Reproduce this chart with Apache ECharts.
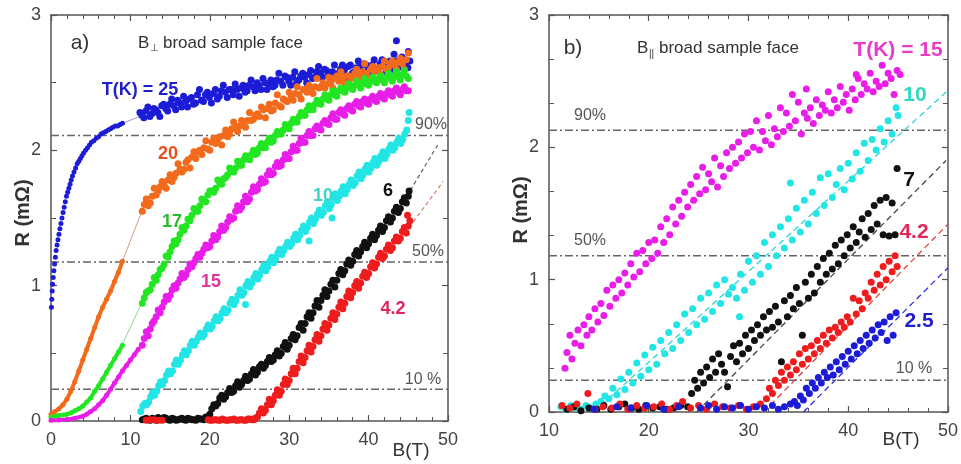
<!DOCTYPE html>
<html><head><meta charset="utf-8">
<script src="https://cdn.jsdelivr.net/npm/echarts@6.0.0/dist/echarts.min.js"></script>
<style>html,body{margin:0;padding:0;background:#fff}#c{width:961px;height:464px}</style>
</head><body><div id="c"></div><script>
// ---------- Panel a) B perpendicular ----------
const a25Lo = [[0.05,0.84],[0.1,0.9],[0.15,0.96],[0.2,1.01],[0.28,1.06],[0.36,1.11],[0.45,1.16],[0.55,1.21],[0.65,1.26],[0.76,1.3],[0.88,1.34],[1.0,1.38],[1.12,1.42],[1.25,1.46],[1.38,1.5],[1.52,1.54],[1.66,1.58],[1.8,1.62],[1.95,1.66],[2.1,1.69],[2.25,1.72],[2.4,1.75],[2.55,1.78],[2.7,1.81],[2.9,1.84],[3.1,1.87],[3.3,1.9],[3.5,1.92],[3.7,1.94],[3.9,1.96],[4.1,1.98],[4.35,2.0],[4.6,2.02],[4.85,2.04],[5.1,2.06],[5.4,2.07],[5.7,2.09],[6.0,2.1],[6.3,2.12],[6.6,2.13],[6.9,2.14],[7.2,2.15],[7.5,2.16],[7.8,2.17],[8.1,2.18],[8.4,2.18],[8.7,2.19],[9.0,2.2]];
const a25Gap = [[9.0,2.2],[11.2,2.25]];
const a25 = [[11.2,2.28],[11.7,2.24],[12.2,2.32],[12.7,2.27],[13.2,2.30],[13.7,2.25],[14.2,2.34],[14.7,2.29],[15.2,2.38],[15.7,2.30],[16.2,2.35],[16.7,2.40],[17.2,2.32],[17.7,2.39],[18.2,2.35],[18.7,2.45],[19.2,2.36],[19.7,2.43],[20.2,2.35],[20.7,2.45],[21.2,2.40],[21.7,2.48],[22.2,2.39],[22.7,2.45],[23.2,2.49],[23.7,2.40],[24.2,2.48],[24.7,2.44],[25.2,2.52],[25.7,2.44],[26.2,2.48],[26.7,2.53],[27.2,2.45],[27.7,2.52],[28.2,2.48],[28.7,2.57],[29.2,2.48],[29.7,2.54],[30.2,2.48],[30.7,2.58],[31.2,2.52],[31.7,2.57],[32.2,2.50],[32.7,2.59],[33.2,2.54],[33.7,2.62],[34.2,2.54],[34.7,2.59],[35.2,2.53],[35.7,2.63],[36.2,2.57],[36.7,2.63],[37.2,2.54],[37.7,2.63],[38.2,2.58],[38.7,2.66],[39.2,2.58],[39.7,2.63],[40.2,2.57],[40.7,2.67],[41.2,2.60],[41.7,2.67],[42.2,2.58],[42.7,2.66],[43.2,2.71],[43.5,2.81],[43.7,2.61],[44.2,2.69],[44.7,2.63],[45.0,2.73],[45.2,2.66]];
const a25More = [[11.45,2.26],[11.95,2.29],[12.45,2.25],[12.95,2.31],[13.45,2.28],[13.95,2.33],[14.45,2.31],[14.95,2.34],[15.45,2.33],[15.95,2.37],[16.45,2.32],[16.95,2.36],[17.45,2.38],[17.95,2.34],[18.45,2.41],[18.95,2.37],[19.45,2.41],[19.95,2.39],[20.45,2.42],[20.95,2.38],[21.45,2.44],[21.95,2.43],[22.45,2.45],[22.95,2.41],[23.45,2.45],[23.95,2.46],[24.45,2.43],[24.95,2.48],[25.45,2.47],[25.95,2.50],[26.45,2.45],[26.95,2.50],[27.45,2.49],[27.95,2.47],[28.45,2.52],[28.95,2.51],[29.45,2.55],[29.95,2.51],[30.45,2.54],[30.95,2.50],[31.45,2.55],[31.95,2.54],[32.45,2.56],[32.95,2.53],[33.45,2.58],[33.95,2.57],[34.45,2.60],[34.95,2.56],[35.45,2.58],[35.95,2.55],[36.45,2.60],[36.95,2.59],[37.45,2.62],[37.95,2.57],[38.45,2.61],[38.95,2.62],[39.45,2.64],[39.95,2.60],[40.45,2.63],[40.95,2.59],[41.45,2.64],[41.95,2.62],[42.45,2.65],[42.95,2.60],[43.45,2.66],[43.95,2.65],[44.45,2.67],[44.95,2.61]];

const a20Lo = [[0,0.05],[0.5,0.07],[1,0.09],[1.5,0.12],[2,0.16],[2.5,0.22],[3,0.29],[3.5,0.37],[4,0.45],[4.5,0.53],[5,0.61],[5.5,0.69],[6,0.77],[6.5,0.84],[7,0.9],[7.5,0.96],[8,1.03],[8.5,1.1],[9,1.18]];
const a20Gap = [[9,1.18],[11.5,1.56]];
const a20 = [[11.5,1.55],[12,1.64],[12.5,1.61],[13,1.72],[13.5,1.70],[14,1.77],[14.5,1.72],[15,1.82],[15.5,1.80],[16,1.90],[16.5,1.84],[17,1.91],[17.5,1.87],[18,1.99],[18.5,1.99],[19,1.97],[19.5,2.07],[20,2.00],[20.5,2.09],[21,2.08],[21.5,2.04],[22,2.15],[22.5,2.12],[23,2.21],[23.5,2.14],[24,2.22],[24.5,2.17],[25,2.28],[25.5,2.23],[26,2.27],[26.5,2.32],[27,2.24],[27.5,2.34],[28,2.30],[28.5,2.41],[29,2.32],[29.5,2.37],[30,2.43],[30.5,2.37],[31,2.47],[31.5,2.38],[32,2.45],[32.5,2.48],[33,2.42],[33.5,2.53],[34,2.47],[34.5,2.46],[35,2.54],[35.5,2.46],[36,2.55],[36.5,2.58],[37,2.50],[37.5,2.55],[38,2.54],[38.5,2.60],[39,2.54],[39.5,2.64],[40,2.53],[40.5,2.62],[41,2.59],[41.5,2.56],[42,2.66],[42.5,2.61],[43,2.66],[43.5,2.60],[44,2.68],[44.5,2.60],[45,2.72]];
const a20More = [[11.75,1.60],[12.25,1.59],[12.75,1.66],[13.25,1.67],[13.75,1.73],[14.25,1.74],[14.75,1.78],[15.25,1.77],[15.75,1.83],[16.25,1.86],[16.75,1.86],[17.25,1.93],[17.75,1.95],[18.25,1.94],[18.75,2.00],[19.25,2.02],[19.75,2.01],[20.25,2.06],[20.75,2.05],[21.25,2.10],[21.75,2.11],[22.25,2.10],[22.75,2.16],[23.25,2.17],[23.75,2.18],[24.25,2.21],[24.75,2.22],[25.25,2.22],[25.75,2.26],[26.25,2.25],[26.75,2.30],[27.25,2.31],[27.75,2.29],[28.25,2.35],[28.75,2.33],[29.25,2.38],[29.75,2.36],[30.25,2.40],[30.75,2.42],[31.25,2.41],[31.75,2.45],[32.25,2.43],[32.75,2.46],[33.25,2.47],[33.75,2.46],[34.25,2.50],[34.75,2.49],[35.25,2.50],[35.75,2.53],[36.25,2.51],[36.75,2.54],[37.25,2.55],[37.75,2.53],[38.25,2.57],[38.75,2.56],[39.25,2.58],[39.75,2.57],[40.25,2.60],[40.75,2.58],[41.25,2.61],[41.75,2.62],[42.25,2.60],[42.75,2.64],[43.25,2.63],[43.75,2.65],[44.25,2.64],[44.75,2.67]];

const a17Lo = [[0,0.03],[0.5,0.035],[1,0.04],[1.5,0.045],[2,0.05],[2.5,0.06],[3,0.075],[3.5,0.09],[4,0.11],[4.5,0.14],[5,0.17],[5.5,0.22],[6,0.26],[6.5,0.31],[7,0.36],[7.5,0.41],[8,0.46],[8.5,0.51],[9,0.56]];
const a17Gap = [[9,0.57],[11.5,0.88]];
const a17 = [[11.5,0.87],[12,0.95],[12.5,0.97],[13,1.06],[13.5,1.08],[14,1.13],[14.5,1.22],[15,1.25],[15.5,1.33],[16,1.34],[16.5,1.43],[17,1.44],[17.5,1.48],[18,1.57],[18.5,1.55],[19,1.64],[19.5,1.62],[20,1.70],[20.5,1.69],[21,1.78],[21.5,1.75],[22,1.80],[22.5,1.87],[23,1.84],[23.5,1.92],[24,1.89],[24.5,1.96],[25,1.93],[25.5,2.00],[26,1.98],[26.5,2.05],[27,2.02],[27.5,2.09],[28,2.07],[28.5,2.14],[29,2.12],[29.5,2.19],[30,2.16],[30.5,2.23],[31,2.21],[31.5,2.28],[32,2.26],[32.5,2.33],[33,2.30],[33.5,2.37],[34,2.34],[34.5,2.41],[35,2.37],[35.5,2.44],[36,2.40],[36.5,2.46],[37,2.43],[37.5,2.49],[38,2.45],[38.5,2.51],[39,2.46],[39.5,2.53],[40,2.48],[40.5,2.54],[41,2.50],[41.5,2.55],[42,2.50],[42.5,2.57],[43,2.51],[43.5,2.58],[44,2.52],[44.5,2.59],[45,2.53]];
const a17More = [[11.75,0.91],[12.25,0.96],[12.75,1.01],[13.25,1.04],[13.75,1.12],[14.25,1.16],[14.75,1.21],[15.25,1.29],[15.75,1.31],[16.25,1.38],[16.75,1.41],[17.25,1.49],[17.75,1.52],[18.25,1.55],[18.75,1.59],[19.25,1.63],[19.75,1.67],[20.25,1.70],[20.75,1.72],[21.25,1.76],[21.75,1.79],[22.25,1.82],[22.75,1.85],[23.25,1.87],[23.75,1.89],[24.25,1.93],[24.75,1.94],[25.25,1.97],[25.75,1.97],[26.25,2.02],[26.75,2.02],[27.25,2.06],[27.75,2.06],[28.25,2.11],[28.75,2.12],[29.25,2.15],[29.75,2.17],[30.25,2.20],[30.75,2.21],[31.25,2.25],[31.75,2.26],[32.25,2.30],[32.75,2.30],[33.25,2.34],[33.75,2.35],[34.25,2.38],[34.75,2.38],[35.25,2.41],[35.75,2.41],[36.25,2.44],[36.75,2.44],[37.25,2.46],[37.75,2.46],[38.25,2.48],[38.75,2.48],[39.25,2.50],[39.75,2.49],[40.25,2.51],[40.75,2.51],[41.25,2.53],[41.75,2.52],[42.25,2.54],[42.75,2.53],[43.25,2.55],[43.75,2.54],[44.25,2.56],[44.75,2.55]];

const a15Lo = [[0,0.005],[1,0.008],[2,0.012],[3,0.02],[4,0.035],[4.5,0.05],[5,0.07],[5.5,0.09],[6,0.12],[6.5,0.15],[7,0.19],[7.5,0.235],[8,0.28],[8.5,0.325],[9,0.37],[9.5,0.41],[10,0.45],[10.5,0.49],[11,0.53]];
const a15 = [[11.5,0.56],[12,0.66],[12.5,0.68],[13,0.74],[13.5,0.82],[14,0.84],[14.5,0.92],[15,0.93],[15.5,1.00],[16,1.02],[16.5,1.09],[17,1.08],[17.5,1.16],[18,1.17],[18.5,1.23],[19,1.24],[19.5,1.30],[20,1.29],[20.5,1.37],[21,1.36],[21.5,1.44],[22,1.43],[22.5,1.51],[23,1.50],[23.5,1.59],[24,1.58],[24.5,1.66],[25,1.64],[25.5,1.73],[26,1.71],[26.5,1.79],[27,1.77],[27.5,1.85],[28,1.83],[28.5,1.91],[29,1.89],[29.5,1.97],[30,1.94],[30.5,2.03],[31,2.00],[31.5,2.09],[32,2.06],[32.5,2.14],[33,2.11],[33.5,2.18],[34,2.15],[34.5,2.22],[35,2.19],[35.5,2.27],[36,2.23],[36.5,2.30],[37,2.26],[37.5,2.33],[38,2.29],[38.5,2.36],[39,2.32],[39.5,2.38],[40,2.34],[40.5,2.40],[41,2.36],[41.5,2.42],[42,2.38],[42.5,2.44],[43,2.40],[43.5,2.46],[44,2.41],[44.5,2.47],[45,2.44]];
const a15More = [[11.75,0.61],[12.25,0.63],[12.75,0.72],[13.25,0.77],[13.75,0.80],[14.25,0.88],[14.75,0.90],[15.25,0.97],[15.75,0.98],[16.25,1.05],[16.75,1.06],[17.25,1.12],[17.75,1.14],[18.25,1.20],[18.75,1.21],[19.25,1.27],[19.75,1.28],[20.25,1.33],[20.75,1.34],[21.25,1.40],[21.75,1.41],[22.25,1.47],[22.75,1.49],[23.25,1.55],[23.75,1.56],[24.25,1.62],[24.75,1.62],[25.25,1.69],[25.75,1.70],[26.25,1.75],[26.75,1.76],[27.25,1.82],[27.75,1.82],[28.25,1.88],[28.75,1.88],[29.25,1.93],[29.75,1.94],[30.25,1.99],[30.75,2.00],[31.25,2.05],[31.75,2.06],[32.25,2.11],[32.75,2.11],[33.25,2.16],[33.75,2.16],[34.25,2.20],[34.75,2.20],[35.25,2.24],[35.75,2.23],[36.25,2.28],[36.75,2.27],[37.25,2.31],[37.75,2.30],[38.25,2.34],[38.75,2.33],[39.25,2.36],[39.75,2.35],[40.25,2.38],[40.75,2.37],[41.25,2.40],[41.75,2.39],[42.25,2.42],[42.75,2.41],[43.25,2.44],[43.75,2.43],[44.25,2.45],[44.75,2.44]];

const a10 = [[11.3,0.07],[11.8,0.13],[12.3,0.14],[12.8,0.21],[13.3,0.22],[13.8,0.29],[14.3,0.30],[14.8,0.37],[15.3,0.37],[15.8,0.45],[16.3,0.45],[16.8,0.52],[17.3,0.52],[17.8,0.59],[18.3,0.59],[18.8,0.65],[19.3,0.64],[19.8,0.71],[20.3,0.70],[20.8,0.77],[21.3,0.76],[21.8,0.83],[22.3,0.82],[22.8,0.90],[23.3,0.89],[23.8,0.97],[24.3,0.95],[24.5,0.86],[24.8,1.03],[25.3,1.02],[25.8,1.09],[26.3,1.08],[26.8,1.15],[27.3,1.14],[27.8,1.21],[28.3,1.20],[28.8,1.27],[29.3,1.26],[29.8,1.32],[30.3,1.31],[30.8,1.38],[31.3,1.37],[31.8,1.44],[32.3,1.43],[32.5,1.33],[32.8,1.50],[33.3,1.49],[33.8,1.56],[34.3,1.54],[34.8,1.62],[35.3,1.60],[35.4,1.50],[35.8,1.68],[36.3,1.66],[36.8,1.73],[37.3,1.71],[37.8,1.78],[38.3,1.76],[38.8,1.84],[39.3,1.82],[39.8,1.89],[40.3,1.87],[40.8,1.94],[41.3,1.92],[41.8,1.99],[42.3,1.97],[42.8,2.04],[43.3,2.02],[43.8,2.09],[44.3,2.08],[44.8,2.15],[45.0,2.22],[45.1,2.28]];
const a10More = [[11.55,0.11],[12.05,0.12],[12.55,0.18],[13.05,0.19],[13.55,0.26],[14.05,0.27],[14.55,0.34],[15.05,0.35],[15.55,0.42],[16.05,0.42],[16.55,0.49],[17.05,0.49],[17.55,0.56],[18.05,0.56],[18.55,0.62],[19.05,0.62],[19.55,0.68],[20.05,0.68],[20.55,0.74],[21.05,0.74],[21.55,0.80],[22.05,0.80],[22.55,0.87],[23.05,0.86],[23.55,0.93],[24.05,0.93],[24.55,1.00],[25.05,0.99],[25.55,1.06],[26.05,1.05],[26.55,1.12],[27.05,1.11],[27.55,1.18],[28.05,1.17],[28.55,1.24],[29.05,1.23],[29.55,1.29],[30.05,1.29],[30.55,1.35],[31.05,1.34],[31.55,1.41],[32.05,1.40],[32.55,1.47],[33.05,1.46],[33.55,1.53],[34.05,1.52],[34.55,1.59],[35.05,1.57],[35.55,1.65],[36.05,1.63],[36.55,1.70],[37.05,1.68],[37.55,1.75],[38.05,1.74],[38.55,1.81],[39.05,1.79],[39.55,1.86],[40.05,1.84],[40.55,1.91],[41.05,1.89],[41.55,1.96],[42.05,1.94],[42.55,2.01],[43.05,2.00],[43.55,2.06],[44.05,2.05],[44.55,2.12]];

const a6 = [[11.5,0.01],[12,0.02],[12.5,0.005],[13,0.015],[13.5,0.025],[14,0.01],[14.5,0.02],[15,0.005],[15.5,0.015],[16,0.01],[16.5,0.02],[17,0.005],[17.5,0.015],[18,0.01],[18.5,0.02],[19,0.015],[19.5,0.03],[20,0.05],[20.5,0.12],[21,0.13],[21.5,0.19],[22,0.18],[22.5,0.24],[23,0.22],[23.5,0.29],[24,0.27],[24.5,0.33],[25,0.31],[25.5,0.38],[26,0.36],[26.5,0.42],[27,0.41],[27.5,0.47],[28,0.45],[28.5,0.52],[29,0.50],[29.5,0.58],[30,0.56],[30.5,0.64],[31,0.63],[31.5,0.72],[32,0.72],[32.5,0.80],[33,0.80],[33.5,0.89],[34,0.89],[34.5,0.97],[35,0.96],[35.5,1.04],[36,1.04],[36.5,1.12],[37,1.11],[37.5,1.19],[38,1.18],[38.5,1.26],[39,1.25],[39.5,1.32],[40,1.31],[40.5,1.38],[41,1.37],[41.5,1.44],[42,1.43],[42.5,1.51],[43,1.50],[43.5,1.58],[44,1.57],[44.5,1.65],[45,1.66],[45.1,1.70]];
const a6More = [[11.75,0.015],[12.25,0.01],[12.75,0.02],[13.25,0.005],[13.75,0.015],[14.25,0.025],[14.75,0.01],[15.25,0.02],[15.75,0.005],[16.25,0.015],[16.75,0.01],[17.25,0.02],[17.75,0.01],[18.25,0.005],[18.75,0.015],[19.25,0.01],[19.75,0.03],[20.25,0.09],[20.75,0.11],[21.25,0.17],[21.75,0.16],[22.25,0.21],[22.75,0.21],[23.25,0.26],[23.75,0.25],[24.25,0.30],[24.75,0.30],[25.25,0.35],[25.75,0.34],[26.25,0.40],[26.75,0.39],[27.25,0.44],[27.75,0.44],[28.25,0.49],[28.75,0.48],[29.25,0.55],[29.75,0.53],[30.25,0.61],[30.75,0.60],[31.25,0.69],[31.75,0.67],[32.25,0.77],[32.75,0.76],[33.25,0.85],[33.75,0.84],[34.25,0.93],[34.75,0.92],[35.25,1.01],[35.75,0.99],[36.25,1.09],[36.75,1.08],[37.25,1.16],[37.75,1.15],[38.25,1.23],[38.75,1.22],[39.25,1.29],[39.75,1.28],[40.25,1.35],[40.75,1.34],[41.25,1.41],[41.75,1.40],[42.25,1.48],[42.75,1.47],[43.25,1.55],[43.75,1.54],[44.25,1.62],[44.75,1.61]];
const a6Dash = [[44.8,1.66],[48.7,2.04]];

const a4 = [[12,0.005],[13,0.01],[14,0.005],[19.8,0.01],[20.3,0.005],[20.8,0.01],[21.3,0.005],[21.8,0.01],[22.3,0.005],[22.8,0.01],[23.3,0.005],[23.8,0.01],[24.3,0.005],[24.8,0.015],[25.3,0.01],[25.7,0.02],[26,0.03],[26.5,0.09],[27,0.08],[27.5,0.16],[28,0.15],[28.5,0.23],[29,0.22],[29.5,0.31],[30,0.30],[30.5,0.39],[31,0.39],[31.5,0.48],[32,0.47],[32.5,0.56],[33,0.55],[33.5,0.64],[34,0.63],[34.5,0.72],[35,0.71],[35.5,0.80],[36,0.79],[36.5,0.88],[37,0.87],[37.5,0.96],[38,0.95],[38.5,1.03],[39,1.02],[39.5,1.10],[40,1.09],[40.5,1.17],[41,1.16],[41.5,1.24],[42,1.22],[42.5,1.30],[43,1.28],[43.5,1.36],[44,1.35],[44.5,1.43],[44.9,1.52],[45,1.44],[45.2,1.48]];
const a4More = [[12.5,0.01],[13.5,0.005],[20.05,0.005],[20.55,0.01],[21.05,0.005],[21.55,0.015],[22.05,0.005],[22.55,0.01],[23.05,0.015],[23.55,0.005],[24.05,0.01],[24.55,0.005],[25.05,0.015],[25.55,0.01],[26.25,0.06],[26.75,0.06],[27.25,0.12],[27.75,0.12],[28.25,0.19],[28.75,0.19],[29.25,0.27],[29.75,0.27],[30.25,0.35],[30.75,0.35],[31.25,0.44],[31.75,0.43],[32.25,0.52],[32.75,0.51],[33.25,0.60],[33.75,0.59],[34.25,0.68],[34.75,0.67],[35.25,0.76],[35.75,0.75],[36.25,0.84],[36.75,0.83],[37.25,0.92],[37.75,0.91],[38.25,1.00],[38.75,0.98],[39.25,1.07],[39.75,1.06],[40.25,1.14],[40.75,1.13],[41.25,1.21],[41.75,1.20],[42.25,1.27],[42.75,1.26],[43.25,1.33],[43.75,1.33],[44.25,1.40],[44.75,1.39]];
const a4Dash = [[45.1,1.43],[49.4,1.77]];

const levelsA = [2.11, 1.175, 0.234];
const levelNames = ['90%', '50%', '10 %'];

// ---------- Panel b) B parallel ----------
const b15 = [[11.6,0.33],[11.8,0.45],[12.1,0.58],[12.3,0.40],[12.6,0.52],[12.9,0.62],[13.2,0.50],[13.5,0.66],[13.8,0.58],[14.0,0.72],[14.3,0.62],[14.6,0.78],[14.9,0.68],[15.2,0.82],[15.5,0.73],[15.8,0.92],[16.1,0.80],[16.4,0.96],[16.7,0.86],[17.0,1.00],[17.3,0.90],[17.6,1.05],[17.9,0.96],[18.2,1.12],[18.5,1.02],[18.8,1.20],[19.1,1.06],[19.4,1.22],[19.7,1.12],[20.0,1.28],[20.3,1.16],[20.6,1.30],[20.9,1.20],[21.2,1.40],[21.5,1.28],[21.8,1.46],[22.1,1.34],[22.4,1.55],[22.7,1.42],[23.0,1.60],[23.3,1.48],[23.6,1.66],[23.9,1.55],[24.2,1.72],[24.5,1.60],[24.8,1.78],[25.1,1.65],[25.4,1.85],[25.7,1.68],[26.0,1.80],[26.3,1.74],[26.6,1.92],[26.9,1.70],[27.2,1.86],[27.5,1.78],[27.8,1.96],[28.1,1.84],[28.4,2.00],[28.7,1.88],[29.0,2.04],[29.3,1.92],[29.6,2.10],[29.9,1.96],[30.2,2.12],[30.5,2.00],[30.8,2.20],[31.1,1.98],[31.4,2.12],[31.7,2.05],[32.0,2.24],[32.3,2.02],[32.6,2.14],[32.9,2.08],[33.2,2.30],[33.5,2.12],[33.8,2.26],[34.1,2.16],[34.4,2.40],[34.7,2.20],[35.0,2.34],[35.3,2.10],[35.6,2.26],[35.8,2.44],[35.9,2.22],[36.2,2.30],[36.5,2.18],[36.8,2.36],[37.1,2.24],[37.4,2.32],[37.7,2.28],[38.0,2.42],[38.3,2.26],[38.6,2.36],[38.9,2.30],[39.2,2.46],[39.5,2.34],[39.8,2.40],[40.1,2.28],[40.4,2.44],[40.7,2.36],[40.8,2.55],[41.0,2.52],[41.3,2.40],[41.6,2.48],[41.9,2.44],[42.2,2.56],[42.5,2.42],[42.8,2.50],[43.1,2.46],[43.4,2.62],[43.7,2.48],[44.0,2.56],[44.3,2.52],[44.6,2.40],[44.9,2.58],[45.2,2.55]];

const b10 = [[11.2,0.04],[11.7,0.02],[12.2,0.05],[12.7,0.03],[13.2,0.02],[13.7,0.05],[14.2,0.03],[14.7,0.06],[15.2,0.08],[15.6,0.12],[16.0,0.10],[16.4,0.18],[16.8,0.13],[17.2,0.25],[17.6,0.17],[18.0,0.30],[18.4,0.22],[18.8,0.37],[19.2,0.27],[19.6,0.43],[20.0,0.32],[20.4,0.49],[20.8,0.36],[21.2,0.54],[21.6,0.44],[22.0,0.60],[22.4,0.48],[22.8,0.66],[23.2,0.54],[23.6,0.74],[24.0,0.60],[24.4,0.78],[24.8,0.66],[25.2,0.86],[25.6,0.70],[26.0,0.90],[26.4,0.76],[26.8,0.96],[27.2,0.82],[27.6,1.00],[28.0,0.89],[28.4,0.94],[28.8,0.86],[29.1,0.72],[29.2,1.04],[29.6,0.92],[30.0,1.14],[30.4,0.98],[30.8,1.18],[31.2,1.04],[31.6,1.28],[32.0,1.10],[32.4,1.34],[32.8,1.18],[33.2,1.40],[33.6,1.24],[34.0,1.46],[34.2,1.73],[34.4,1.30],[34.8,1.54],[35.2,1.36],[35.6,1.60],[36.0,1.42],[36.4,1.66],[36.8,1.50],[37.2,1.77],[37.6,1.56],[38.0,1.80],[38.4,1.62],[38.8,1.72],[39.2,1.84],[39.6,1.68],[40.0,1.88],[40.4,1.76],[40.8,1.96],[41.2,1.82],[41.6,2.03],[42.0,1.90],[42.4,2.06],[42.8,1.98],[43.2,2.14],[43.6,2.04],[44.0,2.20],[44.4,2.10],[44.8,2.30],[45.0,2.24]];
const b10Dash = [[14.5,0],[50,2.43]];

const b7 = [[11.8,0.02],[12.5,0.04],[13.2,0.01],[14.0,0.03],[14.8,0.02],[15.5,0.05],[16.2,0.02],[17.0,0.04],[17.6,0.06],[18.3,0.03],[19.0,0.02],[19.7,0.05],[20.4,0.03],[21.1,0.04],[21.8,0.02],[22.5,0.03],[23.2,0.05],[23.9,0.04],[24.3,0.14],[24.6,0.24],[24.9,0.18],[25.2,0.30],[25.5,0.22],[25.8,0.34],[26.1,0.26],[26.4,0.40],[26.7,0.30],[27.0,0.44],[27.3,0.36],[27.6,0.30],[27.9,0.19],[28.2,0.42],[28.5,0.50],[28.8,0.38],[29.1,0.52],[29.4,0.44],[29.7,0.58],[30.0,0.48],[30.3,0.62],[30.6,0.54],[30.9,0.66],[31.2,0.58],[31.5,0.72],[31.8,0.62],[32.1,0.76],[32.4,0.64],[32.7,0.80],[33.0,0.68],[33.3,0.38],[33.6,0.84],[33.9,0.72],[34.2,0.88],[34.5,0.78],[34.8,0.94],[35.1,0.82],[35.4,0.58],[35.7,0.98],[36.0,0.86],[36.3,1.04],[36.6,0.90],[36.9,1.10],[37.2,0.98],[37.5,1.16],[37.8,1.04],[38.1,1.20],[38.4,1.08],[38.7,1.26],[39.0,1.12],[39.3,1.30],[39.6,1.18],[39.9,1.34],[40.2,1.24],[40.5,1.40],[40.8,1.28],[41.1,1.36],[41.4,1.46],[41.7,1.32],[42.0,1.50],[42.3,1.38],[42.6,1.56],[42.9,1.42],[43.2,1.60],[43.5,1.34],[43.8,1.62],[44.1,1.33],[44.4,1.58],[44.7,1.34],[44.9,1.84]];
const b7Dash = [[24.8,0],[49.8,1.9]];

const b4 = [[11.3,0.05],[12.1,0.03],[12.8,0.06],[13.9,0.14],[14.6,0.02],[15.4,0.04],[16.3,0.03],[17.1,0.06],[17.9,0.02],[18.8,0.05],[19.6,0.03],[20.5,0.04],[21.3,0.06],[22.1,0.02],[22.8,0.05],[23.4,0.08],[24.2,0.03],[25.0,0.05],[25.8,0.02],[26.6,0.06],[27.4,0.04],[28.2,0.03],[29.0,0.05],[29.8,0.02],[30.5,0.04],[31.2,0.06],[31.8,0.10],[32.1,0.18],[32.4,0.14],[32.7,0.24],[33.0,0.20],[33.3,0.30],[33.6,0.24],[33.9,0.34],[34.2,0.28],[34.5,0.38],[34.8,0.32],[35.1,0.44],[35.4,0.36],[35.7,0.48],[36.0,0.40],[36.3,0.50],[36.6,0.44],[36.9,0.54],[37.2,0.48],[37.5,0.58],[37.8,0.52],[38.1,0.62],[38.4,0.56],[38.7,0.64],[39.0,0.60],[39.3,0.68],[39.6,0.64],[39.9,0.72],[40.2,0.68],[40.5,0.86],[40.8,0.74],[41.1,0.84],[41.4,0.78],[41.7,0.90],[42.0,0.86],[42.3,0.98],[42.6,0.92],[42.9,1.04],[43.2,0.96],[43.5,1.10],[43.8,1.00],[44.1,1.14],[44.4,1.06],[44.7,1.18],[44.9,1.10]];
const b4Dash = [[31.5,0],[50,1.42]];

const b2 = [[14.5,0.02],[16.8,0.04],[18.2,0.03],[19.8,0.05],[21.5,0.02],[23.0,0.04],[25.2,0.03],[26.0,0.05],[26.8,0.02],[27.6,0.04],[28.4,0.03],[29.2,0.05],[30.0,0.02],[30.8,0.04],[31.6,0.03],[32.4,0.05],[33.0,0.02],[33.6,0.04],[34.2,0.06],[34.6,0.08],[34.9,0.05],[35.2,0.12],[35.5,0.09],[35.8,0.18],[36.1,0.14],[36.4,0.22],[36.7,0.18],[37.0,0.26],[37.3,0.22],[37.6,0.30],[37.9,0.26],[38.2,0.34],[38.5,0.28],[38.8,0.38],[39.1,0.32],[39.4,0.42],[39.7,0.36],[40.0,0.46],[40.3,0.40],[40.6,0.50],[40.9,0.44],[41.2,0.54],[41.5,0.48],[41.8,0.58],[42.1,0.52],[42.4,0.62],[42.7,0.56],[43.0,0.66],[43.3,0.60],[43.6,0.68],[43.9,0.54],[44.2,0.72],[44.5,0.58],[44.8,0.75]];
const b2Dash = [[35.5,0],[50,1.09]];

const levelsB = [2.13, 1.18, 0.24];

// ---------- colours ----------
const C = {blue:'#1c1cd6', orange:'#f26a1b', green:'#22e622', magenta:'#e81ee8', cyan:'#22e5e5', black:'#111111', red:'#ee1c1c'};

const chart = echarts.init(document.getElementById('c'), null, {renderer:'canvas'});
const FONT = 'Liberation Sans, Arial, sans-serif';
const axCol = '#555';

function xAx(g, min, max, pos, lab) {
  return {type:'value', gridIndex:g, min:min, max:max, interval:10, position:pos,
    axisLine:{show:true, onZero:false, lineStyle:{color:axCol, width:1.5}},
    axisTick:{show:true, inside:true, length:6, lineStyle:{color:axCol, width:1.2}},
    minorTick:{show:true, splitNumber:5, length:4, lineStyle:{color:axCol, width:1}},
    splitLine:{show:false}, minorSplitLine:{show:false},
    axisLabel:{show:lab, color:'#444', fontSize:18, fontFamily:FONT, margin:10}};
}
function yAx(g, pos, lab, minorSplit) {
  return {type:'value', gridIndex:g, min:0, max:3, interval:1, position:pos,
    axisLine:{show:true, onZero:false, lineStyle:{color:axCol, width:1.5}},
    axisTick:{show:true, inside:true, length:6, lineStyle:{color:axCol, width:1.2}},
    minorTick:{show:true, splitNumber:minorSplit, length:5, lineStyle:{color:axCol, width:1}},
    splitLine:{show:false}, minorSplitLine:{show:false},
    axisLabel:{show:lab, color:'#444', fontSize:18, fontFamily:FONT, margin:10}};
}

const series = [];
function ax(p){ return p === 0 ? {xAxisIndex:0, yAxisIndex:0} : {xAxisIndex:2, yAxisIndex:2}; }
function scat(p, data, color, size) {
  series.push(Object.assign({type:'scatter', data:data, symbolSize:size, itemStyle:{color:color, opacity:1}, silent:true, animation:false, z:3}, ax(p)));
}
function smooth(p, data, color) {
  series.push(Object.assign({type:'line', data:data, symbol:'circle', symbolSize:5, showSymbol:true, itemStyle:{color:color}, lineStyle:{color:color, width:4}, silent:true, animation:false, z:3}, ax(p)));
}
function thin(p, data, color, type, width) {
  series.push(Object.assign({type:'line', data:data, symbol:'none', lineStyle:{color:color, width:width, type:type}, silent:true, animation:false, z:2}, ax(p)));
}

// reference levels
levelsA.forEach(v => thin(0, [[0, v], [50, v]], '#666', [8,3,2,3], 1.5));
levelsB.forEach(v => thin(1, [[10, v], [50, v]], '#666', [8,3,2,3], 1.5));

// panel a
const SA = 7;
scat(0, a25Lo, C.blue, 5);
thin(0, a25Gap, 'rgba(110,110,200,0.7)', 'solid', 1);
scat(0, a25, C.blue, SA);
scat(0, a25More, C.blue, SA);
smooth(0, a20Lo, C.orange);
thin(0, a20Gap, 'rgba(200,130,110,0.8)', 'solid', 1);
scat(0, a20, C.orange, SA);
scat(0, a20More, C.orange, SA);
smooth(0, a17Lo, C.green);
thin(0, a17Gap, 'rgba(120,200,120,0.8)', 'solid', 1);
scat(0, a17, C.green, SA);
scat(0, a17More, C.green, SA);
smooth(0, a15Lo, C.magenta);
scat(0, a15, C.magenta, SA);
scat(0, a15More, C.magenta, SA);
scat(0, a10, C.cyan, SA);
scat(0, a10More, C.cyan, SA);
scat(0, a6, C.black, SA);
scat(0, a6More, C.black, SA);
thin(0, a6Dash, '#666', [4,3], 1.2);
scat(0, a4, C.red, SA);
scat(0, a4More, C.red, SA);
thin(0, a4Dash, '#d07a6a', [4,3], 1.2);

// panel b
const SB = 7;
scat(1, b15, C.magenta, SB);
scat(1, b10, C.cyan, SB);
thin(1, b10Dash, '#2ad6d6', [6,4], 1.3);
scat(1, b7, C.black, SB);
thin(1, b7Dash, '#444', [6,4], 1.3);
scat(1, b4, C.red, SB);
thin(1, b4Dash, '#e04040', [6,4], 1.3);
scat(1, b2, C.blue, SB);
thin(1, b2Dash, '#3030e0', [6,4], 1.3);

function txt(x, y, s, color, size, weight, align) {
  return {type:'text', x:x, y:y, silent:true, z:10,
    style:{text:s, fill:color, font:(weight||'normal') + ' ' + size + 'px ' + FONT,
      align:align||'center', verticalAlign:'middle', textAlign:align||'center', textVerticalAlign:'middle'}};
}
const graphics = [
  txt(80, 43, 'a)', '#333', 21),
  txt(138, 43, 'B', '#333', 17, 'normal', 'left'),
  txt(150, 48, '⊥', '#333', 10, 'normal', 'left'),
  txt(163, 43, 'broad sample face', '#333', 17, 'normal', 'left'),
  txt(573, 48, 'b)', '#333', 21),
  txt(637, 48, 'B', '#333', 17, 'normal', 'left'),
  txt(649, 54, '||', '#333', 10, 'normal', 'left'),
  txt(659, 48, 'broad sample face', '#333', 17, 'normal', 'left'),
  {type:'text', x:23, y:213, rotation:Math.PI/2, silent:true, style:{text:'R (mΩ)', fill:'#333', font:'bold 20px ' + FONT, align:'center', verticalAlign:'middle', textAlign:'center', textVerticalAlign:'middle'}},
  {type:'text', x:521, y:210, rotation:Math.PI/2, silent:true, style:{text:'R (mΩ)', fill:'#333', font:'bold 20px ' + FONT, align:'center', verticalAlign:'middle', textAlign:'center', textVerticalAlign:'middle'}},
  txt(411, 451, 'B(T)', '#333', 19),
  txt(901, 440, 'B(T)', '#333', 19),
  txt(431, 125, levelNames[0], '#555', 16),
  txt(428, 252, levelNames[1], '#555', 16),
  txt(423, 380, levelNames[2], '#555', 16),
  txt(590, 116, levelNames[0], '#555', 16),
  txt(590, 241, levelNames[1], '#555', 16),
  txt(914, 369, levelNames[2], '#555', 16),
  txt(140, 90, 'T(K) = 25', '#1f1fc8', 18, 'bold'),
  txt(168, 154, '20', '#e8501e', 18, 'bold'),
  txt(172, 222, '17', '#2fb82f', 18, 'bold'),
  txt(211, 282, '15', '#e0389a', 18, 'bold'),
  txt(323, 196, '10', '#3cd6c8', 18, 'bold'),
  txt(388, 191, '6', '#111', 18, 'bold'),
  txt(393, 309, '4.2', '#e0285a', 18, 'bold'),
  txt(898, 50, 'T(K) = 15', '#e83cc8', 21, 'bold'),
  txt(915, 95, '10', '#30d8c0', 21, 'bold'),
  txt(909, 180, '7', '#111', 21, 'bold'),
  txt(914, 232, '4.2', '#e0285a', 21, 'bold'),
  txt(919, 321, '2.5', '#2020d0', 21, 'bold')
];

chart.setOption({
  backgroundColor:'#fff',
  animation:false,
  grid:[{left:51, top:15, width:397, height:406}, {left:549, top:15, width:399, height:397}],
  xAxis:[xAx(0,0,50,'bottom',true), xAx(0,0,50,'top',false), xAx(1,10,50,'bottom',true), xAx(1,10,50,'top',false)],
  yAxis:[yAx(0,'left',true,2), yAx(0,'right',false,2), yAx(1,'left',true,3), yAx(1,'right',false,3)],
  series:series,
  graphic:graphics
});
</script></body></html>
